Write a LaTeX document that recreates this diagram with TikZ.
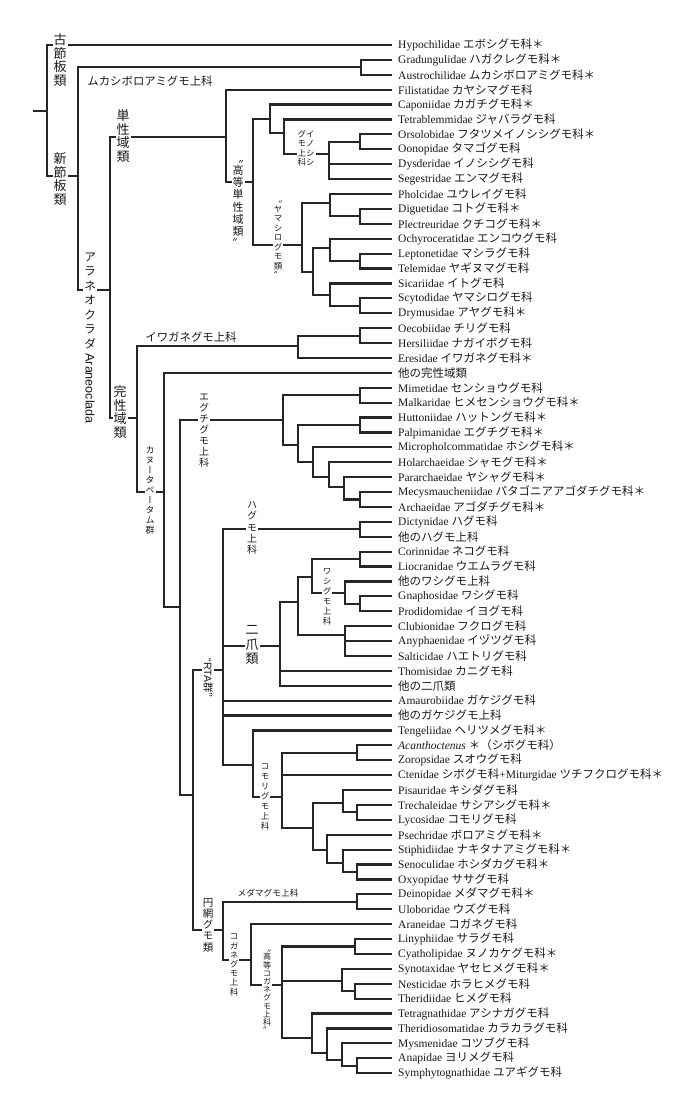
\documentclass[tikz,border=0pt]{standalone}
\usepackage{fontspec}
\setmainfont{Liberation Serif}
\setsansfont{Liberation Sans}
\newfontfamily\jp{Noto Sans CJK JP}
\newfontfamily\jpv[RawFeature=+vert]{Noto Sans CJK JP}
\ExplSyntaxOn
\NewDocumentCommand \tate { O{1.05em} m }
 {
  \vbox:n
   {
    \skip_set:Nn \baselineskip {#1}
    \dim_set:Nn \lineskiplimit {0pt}
    \skip_set:Nn \lineskip {1pt}
    \tl_map_inline:nn {#2} { \hbox_to_wd:nn {1em} { \hss ##1 \hss } }
   }
 }
\NewDocumentCommand \tatetop { O{1.05em} m }
 {
  \vbox_top:n
   {
    \skip_set:Nn \baselineskip {#1}
    \dim_set:Nn \lineskiplimit {0pt}
    \skip_set:Nn \lineskip {1pt}
    \tl_map_inline:nn {#2} { \hbox_to_wd:nn {1em} { \hss ##1 \hss } }
   }
 }
\ExplSyntaxOff
\begin{document}
\begin{tikzpicture}[x=1pt, y=-1pt]
    \tikzset{leaf/.style = {anchor=west, inner xsep=6pt, inner ysep=0pt, text=black!90, font=\fontsize{11.5}{12}\selectfont}}
    \tikzset{branch/.style = {draw=black!85, line width=2.2pt}}
    \tikzset{taxon/.style = {fill=white, inner sep=1pt, text=black!90, font=\jpv\fontsize{#1}{#1}\selectfont}}
    \tikzset{superfam/.style = {inner sep=0pt, text=black!90, font=\jp\fontsize{#1}{#1}\selectfont}}
    \useasboundingbox (0,0) rectangle (684,1110);
    % families
    \node[leaf] (l1) at (392,45.0) {Hypochilidae {\jp エボシグモ科＊}};
    \node[leaf] (l2) at (392,59.9) {Gradungulidae {\jp ハガクレグモ科＊}};
    \node[leaf] (l3) at (392,74.8) {Austrochilidae {\jp ムカシボロアミグモ科＊}};
    \node[leaf] (l4) at (392,89.7) {Filistatidae {\jp カヤシマグモ科}};
    \node[leaf] (l5) at (392,104.6) {Caponiidae {\jp カガチグモ科＊}};
    \node[leaf] (l6) at (392,119.5) {Tetrablemmidae {\jp ジャバラグモ科}};
    \node[leaf] (l7) at (392,134.4) {Orsolobidae {\jp フタツメイノシシグモ科＊}};
    \node[leaf] (l8) at (392,149.3) {Oonopidae {\jp タマゴグモ科}};
    \node[leaf] (l9) at (392,164.2) {Dysderidae {\jp イノシシグモ科}};
    \node[leaf] (l10) at (392,179.1) {Segestridae {\jp エンマグモ科}};
    \node[leaf] (l11) at (392,194.0) {Pholcidae {\jp ユウレイグモ科}};
    \node[leaf] (l12) at (392,208.9) {Diguetidae {\jp コトグモ科＊}};
    \node[leaf] (l13) at (392,223.8) {Plectreuridae {\jp クチコグモ科＊}};
    \node[leaf] (l14) at (392,238.7) {Ochyroceratidae {\jp エンコウグモ科}};
    \node[leaf] (l15) at (392,253.6) {Leptonetidae {\jp マシラグモ科}};
    \node[leaf] (l16) at (392,268.5) {Telemidae {\jp ヤギヌマグモ科}};
    \node[leaf] (l17) at (392,283.4) {Sicariidae {\jp イトグモ科}};
    \node[leaf] (l18) at (392,298.3) {Scytodidae {\jp ヤマシログモ科}};
    \node[leaf] (l19) at (392,313.2) {Drymusidae {\jp アヤグモ科＊}};
    \node[leaf] (l20) at (392,328.1) {Oecobiidae {\jp チリグモ科}};
    \node[leaf] (l21) at (392,343.0) {Hersiliidae {\jp ナガイボグモ科}};
    \node[leaf] (l22) at (392,357.9) {Eresidae {\jp イワガネグモ科＊}};
    \node[leaf] (l23) at (392,372.8) {\jp 他の完性域類};
    \node[leaf] (l24) at (392,387.7) {Mimetidae {\jp センショウグモ科}};
    \node[leaf] (l25) at (392,402.6) {Malkaridae {\jp ヒメセンショウグモ科＊}};
    \node[leaf] (l26) at (392,417.5) {Huttoniidae {\jp ハットングモ科＊}};
    \node[leaf] (l27) at (392,432.4) {Palpimanidae {\jp エグチグモ科＊}};
    \node[leaf] (l28) at (392,447.3) {Micropholcommatidae {\jp ホシグモ科＊}};
    \node[leaf] (l29) at (392,462.2) {Holarchaeidae {\jp シャモグモ科＊}};
    \node[leaf] (l30) at (392,477.1) {Pararchaeidae {\jp ヤシャグモ科＊}};
    \node[leaf] (l31) at (392,492.0) {Mecysmaucheniidae {\jp パタゴニアアゴダチグモ科＊}};
    \node[leaf] (l32) at (392,506.9) {Archaeidae {\jp アゴダチグモ科＊}};
    \node[leaf] (l33) at (392,521.8) {Dictynidae {\jp ハグモ科}};
    \node[leaf] (l34) at (392,536.7) {\jp 他のハグモ上科};
    \node[leaf] (l35) at (392,551.6) {Corinnidae {\jp ネコグモ科}};
    \node[leaf] (l36) at (392,566.5) {Liocranidae {\jp ウエムラグモ科}};
    \node[leaf] (l37) at (392,581.4) {\jp 他のワシグモ上科};
    \node[leaf] (l38) at (392,596.3) {Gnaphosidae {\jp ワシグモ科}};
    \node[leaf] (l39) at (392,611.2) {Prodidomidae {\jp イヨグモ科}};
    \node[leaf] (l40) at (392,626.1) {Clubionidae {\jp フクログモ科}};
    \node[leaf] (l41) at (392,641.0) {Anyphaenidae {\jp イヅツグモ科}};
    \node[leaf] (l42) at (392,655.9) {Salticidae {\jp ハエトリグモ科}};
    \node[leaf] (l43) at (392,670.8) {Thomisidae {\jp カニグモ科}};
    \node[leaf] (l44) at (392,685.7) {\jp 他の二爪類};
    \node[leaf] (l45) at (392,700.6) {Amaurobiidae {\jp ガケジグモ科}};
    \node[leaf] (l46) at (392,715.5) {\jp 他のガケジグモ上科};
    \node[leaf] (l47) at (392,730.4) {Tengeliidae {\jp ヘリツメグモ科＊}};
    \node[leaf] (l48) at (392,745.3) {{\itshape Acanthoctenus} {\jp ＊（シボグモ科）}};
    \node[leaf] (l49) at (392,760.2) {Zoropsidae {\jp スオウグモ科}};
    \node[leaf] (l50) at (392,775.1) {Ctenidae {\jp シボグモ科}+Miturgidae {\jp ツチフクログモ科＊}};
    \node[leaf] (l51) at (392,790.0) {Pisauridae {\jp キシダグモ科}};
    \node[leaf] (l52) at (392,804.9) {Trechaleidae {\jp サシアシグモ科＊}};
    \node[leaf] (l53) at (392,819.8) {Lycosidae {\jp コモリグモ科}};
    \node[leaf] (l54) at (392,834.7) {Psechridae {\jp ボロアミグモ科＊}};
    \node[leaf] (l55) at (392,849.6) {Stiphidiidae {\jp ナキタナアミグモ科＊}};
    \node[leaf] (l56) at (392,864.5) {Senoculidae {\jp ホシダカグモ科＊}};
    \node[leaf] (l57) at (392,879.4) {Oxyopidae {\jp ササグモ科}};
    \node[leaf] (l58) at (392,894.3) {Deinopidae {\jp メダマグモ科＊}};
    \node[leaf] (l59) at (392,909.2) {Uloboridae {\jp ウズグモ科}};
    \node[leaf] (l60) at (392,924.1) {Araneidae {\jp コガネグモ科}};
    \node[leaf] (l61) at (392,939.0) {Linyphiidae {\jp サラグモ科}};
    \node[leaf] (l62) at (392,953.9) {Cyatholipidae {\jp ヌノカケグモ科＊}};
    \node[leaf] (l63) at (392,968.8) {Synotaxidae {\jp ヤセヒメグモ科＊}};
    \node[leaf] (l64) at (392,983.7) {Nesticidae {\jp ホラヒメグモ科}};
    \node[leaf] (l65) at (392,998.6) {Theridiidae {\jp ヒメグモ科}};
    \node[leaf] (l66) at (392,1013.5) {Tetragnathidae {\jp アシナガグモ科}};
    \node[leaf] (l67) at (392,1028.4) {Theridiosomatidae {\jp カラカラグモ科}};
    \node[leaf] (l68) at (392,1043.3) {Mysmenidae {\jp コツブグモ科}};
    \node[leaf] (l69) at (392,1058.2) {Anapidae {\jp ヨリメグモ科}};
    \node[leaf] (l70) at (392,1073.1) {Symphytognathidae {\jp ユアギグモ科}};
    % branching points
    \coordinate (root) at (33,111);
    \coordinate (r) at (47,111);
    \coordinate (neo) at (78,176);
    \coordinate (gra) at (361,67);
    \coordinate (ara) at (110,290);
    \coordinate (hap) at (226,137);
    \coordinate (hh) at (253,182);
    \coordinate (cap) at (270,119);
    \coordinate (dys) at (284,133);
    \coordinate (dy2) at (329,154);
    \coordinate (oo) at (360,142);
    \coordinate (yam) at (302,245);
    \coordinate (ph) at (330,203);
    \coordinate (dg) at (360,216);
    \coordinate (sc) at (313,272);
    \coordinate (ochy) at (330,248);
    \coordinate (lt) at (360,261);
    \coordinate (sica) at (330,295);
    \coordinate (scy) at (360,306);
    \coordinate (ent) at (137,418);
    \coordinate (ere) at (298,346);
    \coordinate (oh) at (360,336);
    \coordinate (can) at (164,492);
    \coordinate (dion) at (180,607);
    \coordinate (pal) at (283,420);
    \coordinate (mm) at (360,395);
    \coordinate (pp) at (298,445);
    \coordinate (hp) at (360,425);
    \coordinate (mic) at (313,462);
    \coordinate (hol) at (329,477);
    \coordinate (par) at (344,487);
    \coordinate (arc) at (360,499.5);
    \coordinate (rtaorb) at (193,795);
    \coordinate (rta) at (223,670);
    \coordinate (dic) at (360,529);
    \coordinate (dio) at (280,646);
    \coordinate (dd) at (298,602);
    \coordinate (cor) at (312,577);
    \coordinate (co2) at (360,559);
    \coordinate (gn) at (345,593);
    \coordinate (gp) at (360,604);
    \coordinate (clu) at (345,635);
    \coordinate (lyc) at (253,765);
    \coordinate (lyc2) at (282,797);
    \coordinate (ac) at (357,753);
    \coordinate (pis) at (313,828);
    \coordinate (pt) at (343,803);
    \coordinate (tl) at (357,812);
    \coordinate (ps) at (327,850);
    \coordinate (st) at (343,863);
    \coordinate (so) at (357,872);
    \coordinate (orb) at (223,930);
    \coordinate (deu) at (357,902);
    \coordinate (ara2) at (251,960);
    \coordinate (hi) at (282,985);
    \coordinate (lc) at (355,946.5);
    \coordinate (sn) at (342,981);
    \coordinate (nt) at (355,991);
    \coordinate (tet) at (312,1038);
    \coordinate (th) at (327,1053);
    \coordinate (my) at (342,1060);
    \coordinate (an) at (357,1065.6);
    % branches
    \draw[branch] (root) -- (r);
    \draw[branch] (r) |- (l1.west);
    \draw[branch] (r) |- (neo);
    \draw[branch] (neo) |- (gra);
    \draw[branch] (neo) |- (ara);
    \draw[branch] (gra) |- (l2.west);
    \draw[branch] (gra) |- (l3.west);
    \draw[branch] (ara) |- (hap);
    \draw[branch] (ara) |- (ent);
    \draw[branch] (hap) |- (l4.west);
    \draw[branch] (hap) |- (hh);
    \draw[branch] (hh) |- (cap);
    \draw[branch] (hh) |- (yam);
    \draw[branch] (cap) |- (l5.west);
    \draw[branch] (cap) |- (dys);
    \draw[branch] (dys) |- (l6.west);
    \draw[branch] (dys) |- (dy2);
    \draw[branch] (dy2) |- (oo);
    \draw[branch] (dy2) |- (l9.west);
    \draw[branch] (dy2) |- (l10.west);
    \draw[branch] (oo) |- (l7.west);
    \draw[branch] (oo) |- (l8.west);
    \draw[branch] (yam) |- (ph);
    \draw[branch] (yam) |- (sc);
    \draw[branch] (ph) |- (l11.west);
    \draw[branch] (ph) |- (dg);
    \draw[branch] (dg) |- (l12.west);
    \draw[branch] (dg) |- (l13.west);
    \draw[branch] (sc) |- (ochy);
    \draw[branch] (sc) |- (sica);
    \draw[branch] (ochy) |- (l14.west);
    \draw[branch] (ochy) |- (lt);
    \draw[branch] (lt) |- (l15.west);
    \draw[branch] (lt) |- (l16.west);
    \draw[branch] (sica) |- (l17.west);
    \draw[branch] (sica) |- (scy);
    \draw[branch] (scy) |- (l18.west);
    \draw[branch] (scy) |- (l19.west);
    \draw[branch] (ent) |- (ere);
    \draw[branch] (ent) |- (can);
    \draw[branch] (ere) |- (oh);
    \draw[branch] (ere) |- (l22.west);
    \draw[branch] (oh) |- (l20.west);
    \draw[branch] (oh) |- (l21.west);
    \draw[branch] (can) |- (l23.west);
    \draw[branch] (can) |- (dion);
    \draw[branch] (dion) |- (pal);
    \draw[branch] (dion) |- (rtaorb);
    \draw[branch] (pal) |- (mm);
    \draw[branch] (pal) |- (pp);
    \draw[branch] (mm) |- (l24.west);
    \draw[branch] (mm) |- (l25.west);
    \draw[branch] (pp) |- (hp);
    \draw[branch] (pp) |- (mic);
    \draw[branch] (hp) |- (l26.west);
    \draw[branch] (hp) |- (l27.west);
    \draw[branch] (mic) |- (l28.west);
    \draw[branch] (mic) |- (hol);
    \draw[branch] (hol) |- (l29.west);
    \draw[branch] (hol) |- (par);
    \draw[branch] (par) |- (l30.west);
    \draw[branch] (par) |- (arc);
    \draw[branch] (arc) |- (l31.west);
    \draw[branch] (arc) |- (l32.west);
    \draw[branch] (rtaorb) |- (rta);
    \draw[branch] (rtaorb) |- (orb);
    \draw[branch] (rta) |- (dic);
    \draw[branch] (rta) |- (dio);
    \draw[branch] (rta) |- (l45.west);
    \draw[branch] (rta) |- (l46.west);
    \draw[branch] (rta) |- (lyc);
    \draw[branch] (dic) |- (l33.west);
    \draw[branch] (dic) |- (l34.west);
    \draw[branch] (dio) |- (dd);
    \draw[branch] (dio) |- (l43.west);
    \draw[branch] (dio) |- (l44.west);
    \draw[branch] (dd) |- (cor);
    \draw[branch] (dd) |- (clu);
    \draw[branch] (cor) |- (co2);
    \draw[branch] (cor) |- (gn);
    \draw[branch] (co2) |- (l35.west);
    \draw[branch] (co2) |- (l36.west);
    \draw[branch] (gn) |- (l37.west);
    \draw[branch] (gn) |- (gp);
    \draw[branch] (gp) |- (l38.west);
    \draw[branch] (gp) |- (l39.west);
    \draw[branch] (clu) |- (l40.west);
    \draw[branch] (clu) |- (l41.west);
    \draw[branch] (clu) |- (l42.west);
    \draw[branch] (lyc) |- (l47.west);
    \draw[branch] (lyc) |- (lyc2);
    \draw[branch] (lyc2) |- (ac);
    \draw[branch] (lyc2) |- (l50.west);
    \draw[branch] (lyc2) |- (pis);
    \draw[branch] (ac) |- (l48.west);
    \draw[branch] (ac) |- (l49.west);
    \draw[branch] (pis) |- (pt);
    \draw[branch] (pis) |- (ps);
    \draw[branch] (pt) |- (l51.west);
    \draw[branch] (pt) |- (tl);
    \draw[branch] (tl) |- (l52.west);
    \draw[branch] (tl) |- (l53.west);
    \draw[branch] (ps) |- (l54.west);
    \draw[branch] (ps) |- (st);
    \draw[branch] (st) |- (l55.west);
    \draw[branch] (st) |- (so);
    \draw[branch] (so) |- (l56.west);
    \draw[branch] (so) |- (l57.west);
    \draw[branch] (orb) |- (deu);
    \draw[branch] (orb) |- (ara2);
    \draw[branch] (deu) |- (l58.west);
    \draw[branch] (deu) |- (l59.west);
    \draw[branch] (ara2) |- (l60.west);
    \draw[branch] (ara2) |- (hi);
    \draw[branch] (hi) |- (lc);
    \draw[branch] (hi) |- (sn);
    \draw[branch] (hi) |- (tet);
    \draw[branch] (lc) |- (l61.west);
    \draw[branch] (lc) |- (l62.west);
    \draw[branch] (sn) |- (l63.west);
    \draw[branch] (sn) |- (nt);
    \draw[branch] (nt) |- (l64.west);
    \draw[branch] (nt) |- (l65.west);
    \draw[branch] (tet) |- (l66.west);
    \draw[branch] (tet) |- (th);
    \draw[branch] (th) |- (l67.west);
    \draw[branch] (th) |- (my);
    \draw[branch] (my) |- (l68.west);
    \draw[branch] (my) |- (an);
    \draw[branch] (an) |- (l69.west);
    \draw[branch] (an) |- (l70.west);
    % group names
    \node[taxon=13] (kosetsu) at (60,60) {\tate[13.75pt]{古節板類}};
    \node[taxon=13] (shinsetsu) at (60,179) {\tate[13.75pt]{新節板類}};
    \node[taxon=13] (tansei) at (123,136) {\tate[13.75pt]{単性域類}};
    \node[taxon=13] (kansei) at (120,412) {\tate[13.75pt]{完性域類}};
    \node[taxon=12] (araneo) at (90,301) {\tate[14.5pt]{アラネオクラダ}};
    \node[fill=white, inner sep=1pt, text=black!90, rotate=-90, anchor=west, font=\sffamily\fontsize{12.5}{13}\selectfont] (araneoL) at ([yshift=-2pt]araneo.south) {Araneoclada};
    \node[taxon=11] (koutan) at (238,204) {\tate[12.25pt]{〝高等単性域類〟}};
    \node[taxon=8.5] (yamashiro) at (278,240) {\tate[9.5pt]{〝ヤマシログモ類〟}};
    \node[taxon=8.5, anchor=north] (inoshishi) at (306,129) {\tatetop[9.5pt]{グモ上科}\tatetop[9.5pt]{イノシシ}};
    \node[taxon=9] (kanu) at (150,490) {\tate[10pt]{カヌータペータム群}};
    \node[taxon=10] (eguchi) at (204,431) {\tate[11pt]{エグチグモ上科}};
    \node[taxon=10] (hagumo) at (252,528) {\tate[11.4pt]{ハグモ上科}};
    \node[taxon=13] (nisou) at (252,645) {\tate[14.7pt]{二爪類}};
    \node[taxon=8.5] (washi) at (327,597) {\tate[10pt]{ワシグモ上科}};
    \node[taxon=10.5, rotate=-90] (rtagun) at (208,678) {{\sffamily “RTA}{\jp 群”}};
    \node[taxon=8.5] (komori) at (265,797) {\tate[10pt]{コモリグモ上科}};
    \node[taxon=10.5] (enmou) at (208,925) {\tate[11.2pt]{円網グモ類}};
    \node[taxon=8.5] (kogane) at (234,965) {\tate[9.2pt]{コガネグモ上科}};
    \node[taxon=8] (koukogane) at (267,992) {\tate[8.2pt]{〝高等コガネグモ上科〟}};
    \node[superfam=11.4] (mukashi) at (150,81) {ムカシボロアミグモ上科};
    \node[superfam=11.4] (iwagane) at (191,337) {イワガネグモ上科};
    \node[superfam=8.7] (medama) at (268,893) {メダマグモ上科};
\end{tikzpicture}
\end{document}
